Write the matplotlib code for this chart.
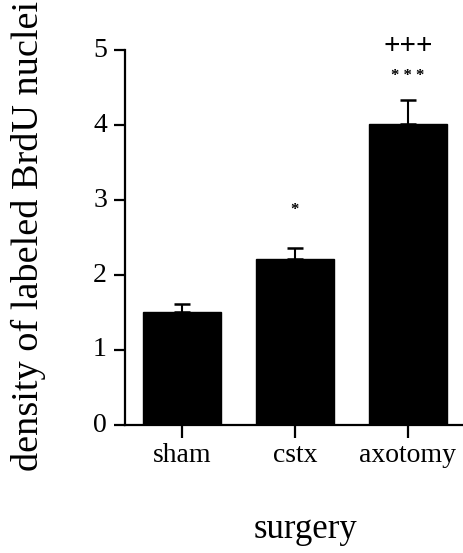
import matplotlib
matplotlib.use("Agg")
import matplotlib.pyplot as plt

categories = ["sham", "cstx", "axotomy"]
means = [1.51, 2.22, 4.01]
sem = [0.10, 0.14, 0.33]
marks_star = ["", "*", "* * *"]
marks_plus = ["", "", "+++"]

plt.rcParams['font.family'] = ['Liberation Serif', 'DejaVu Serif']

fig = plt.figure(figsize=(4.64, 5.53), dpi=100)
ax = fig.add_axes([125/464, 1-425/553, 338/464, 375/553])

x = list(range(len(categories)))
ax.bar(x, means, width=0.69, color='black', edgecolor='black')
ax.errorbar(x, means, yerr=[[0]*len(sem), sem], fmt='none', ecolor='black',
            elinewidth=1.5, capsize=6, capthick=1.8)

for xi, m, s, st, pl in zip(x, means, sem, marks_star, marks_plus):
    if st:
        ypos = 2.87 if xi == 1 else 4.66
        ax.text(xi, ypos, st, ha='center', va='center', fontsize=12,
                fontweight='bold')
    if pl:
        ax.text(xi, 5.05, pl, ha='center', va='center', fontsize=21,
                fontweight='bold')

ax.set_xlim(-0.504, 2.487)
ax.set_ylim(0, 5)
ax.set_yticks([0, 1, 2, 3, 4, 5])
ax.set_xticks(x)
ax.set_xticklabels(categories)
ax.spines['top'].set_visible(False)
ax.spines['right'].set_visible(False)
ax.spines['left'].set_linewidth(1.6)
ax.spines['bottom'].set_linewidth(1.6)
ax.tick_params(axis='y', direction='out', length=8, width=1.6, labelsize=20, pad=5)
ax.tick_params(axis='x', direction='out', length=9, width=1.6, labelsize=20, pad=4)
for lab in ax.get_yticklabels():
    lab.set_verticalalignment('center')

fig.text(28/464, 1-236/553, "density of labeled BrdU nuclei", rotation=90,
         ha='center', va='center', fontsize=27.5)
fig.text(306/464, 1-530/553, "surgery", ha='center', va='center', fontsize=25)

fig.savefig("out.png", dpi=100)
